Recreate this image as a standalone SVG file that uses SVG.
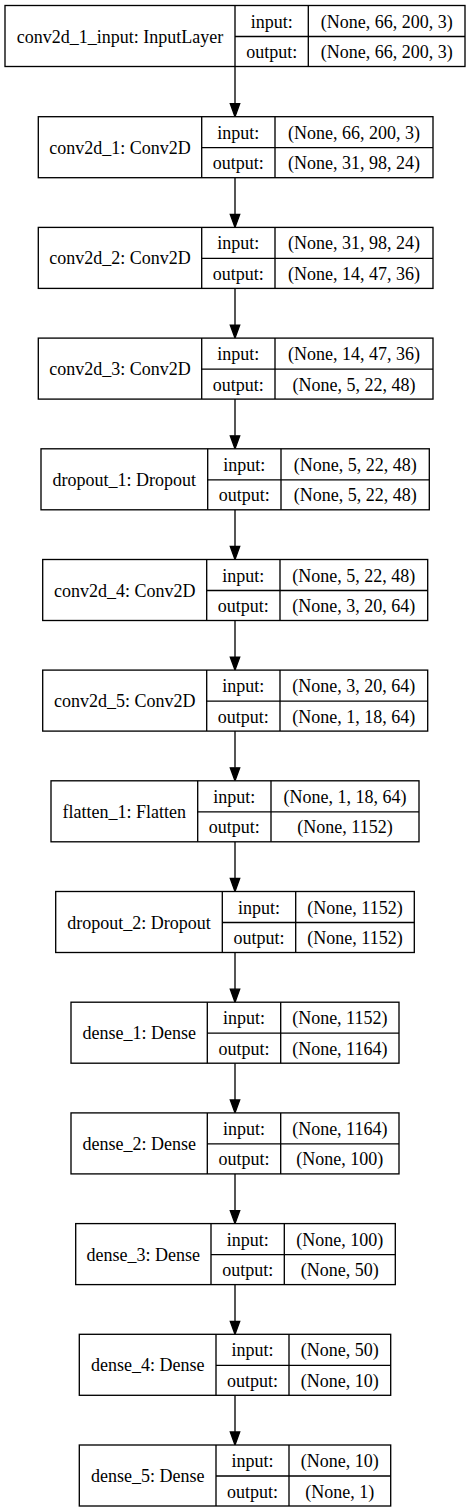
<svg xmlns="http://www.w3.org/2000/svg" width="471" height="1512" viewBox="0 0 471 1512">
<style>
rect{fill:#fff;stroke:#000;stroke-width:1.33}
.d{stroke:#000;stroke-width:1.33;fill:none}
text{font-family:"Liberation Serif","Times New Roman",serif;font-size:18px;fill:#000;text-anchor:middle}
.e{stroke:#000;stroke-width:1.33;fill:none}
.h{fill:#000;stroke:#000;stroke-width:1.33}
</style>
<rect x="0" y="0" width="471" height="1512" style="fill:#fff;stroke:none"/>
<g id="connectors">
<line class="e" x1="235" y1="66.5" x2="235" y2="103.7"/><polygon class="h" points="230.3,103.7 239.7,103.7 235,116.7"/>
<line class="e" x1="235" y1="177.7" x2="235" y2="214.4"/><polygon class="h" points="230.3,214.4 239.7,214.4 235,227.4"/>
<line class="e" x1="235" y1="288.4" x2="235" y2="325.1"/><polygon class="h" points="230.3,325.1 239.7,325.1 235,338.1"/>
<line class="e" x1="235" y1="399.1" x2="235" y2="435.8"/><polygon class="h" points="230.3,435.8 239.7,435.8 235,448.8"/>
<line class="e" x1="235" y1="509.8" x2="235" y2="546.5"/><polygon class="h" points="230.3,546.5 239.7,546.5 235,559.5"/>
<line class="e" x1="235" y1="620.5" x2="235" y2="657.1"/><polygon class="h" points="230.3,657.1 239.7,657.1 235,670.1"/>
<line class="e" x1="235" y1="731.1" x2="235" y2="767.8"/><polygon class="h" points="230.3,767.8 239.7,767.8 235,780.8"/>
<line class="e" x1="235" y1="841.8" x2="235" y2="878.5"/><polygon class="h" points="230.3,878.5 239.7,878.5 235,891.5"/>
<line class="e" x1="235" y1="952.5" x2="235" y2="989.2"/><polygon class="h" points="230.3,989.2 239.7,989.2 235,1002.2"/>
<line class="e" x1="235" y1="1063.2" x2="235" y2="1099.9"/><polygon class="h" points="230.3,1099.9 239.7,1099.9 235,1112.9"/>
<line class="e" x1="235" y1="1173.9" x2="235" y2="1210.6"/><polygon class="h" points="230.3,1210.6 239.7,1210.6 235,1223.6"/>
<line class="e" x1="235" y1="1284.6" x2="235" y2="1321.3"/><polygon class="h" points="230.3,1321.3 239.7,1321.3 235,1334.3"/>
<line class="e" x1="235" y1="1395.3" x2="235" y2="1432"/><polygon class="h" points="230.3,1432 239.7,1432 235,1445"/>
</g>
<g id="conv2d_1_input" transform="translate(0,5.5)">
<rect x="5" y="0" width="460" height="61"/>
<path class="d" d="M235,0V61M308.3,0V61M235,31H465"/>
<text x="120" y="37">conv2d_1_input: InputLayer</text>
<text x="271.7" y="22">input:</text><text x="271.7" y="52.5">output:</text>
<text x="386.7" y="22">(None, 66, 200, 3)</text><text x="386.7" y="52.5">(None, 66, 200, 3)</text>
</g>
<g id="conv2d_1" transform="translate(0,116.7)">
<rect x="38.3" y="0" width="394.7" height="61"/>
<path class="d" d="M201.7,0V61M275,0V61M201.7,31H433"/>
<text x="120" y="37">conv2d_1: Conv2D</text>
<text x="238.3" y="22">input:</text><text x="238.3" y="52.5">output:</text>
<text x="354" y="22">(None, 66, 200, 3)</text><text x="354" y="52.5">(None, 31, 98, 24)</text>
</g>
<g id="conv2d_2" transform="translate(0,227.4)">
<rect x="38.3" y="0" width="394.7" height="61"/>
<path class="d" d="M201.7,0V61M275,0V61M201.7,31H433"/>
<text x="120" y="37">conv2d_2: Conv2D</text>
<text x="238.3" y="22">input:</text><text x="238.3" y="52.5">output:</text>
<text x="354" y="22">(None, 31, 98, 24)</text><text x="354" y="52.5">(None, 14, 47, 36)</text>
</g>
<g id="conv2d_3" transform="translate(0,338.1)">
<rect x="38.3" y="0" width="394.7" height="61"/>
<path class="d" d="M201.7,0V61M275,0V61M201.7,31H433"/>
<text x="120" y="37">conv2d_3: Conv2D</text>
<text x="238.3" y="22">input:</text><text x="238.3" y="52.5">output:</text>
<text x="354" y="22">(None, 14, 47, 36)</text><text x="354" y="52.5">(None, 5, 22, 48)</text>
</g>
<g id="dropout_1" transform="translate(0,448.8)">
<rect x="41" y="0" width="388.3" height="61"/>
<path class="d" d="M207.7,0V61M281,0V61M207.7,31H429.3"/>
<text x="124.3" y="37">dropout_1: Dropout</text>
<text x="244.3" y="22">input:</text><text x="244.3" y="52.5">output:</text>
<text x="355.2" y="22">(None, 5, 22, 48)</text><text x="355.2" y="52.5">(None, 5, 22, 48)</text>
</g>
<g id="conv2d_4" transform="translate(0,559.5)">
<rect x="42.7" y="0" width="385" height="61"/>
<path class="d" d="M206.7,0V61M280,0V61M206.7,31H427.7"/>
<text x="124.7" y="37">conv2d_4: Conv2D</text>
<text x="243.3" y="22">input:</text><text x="243.3" y="52.5">output:</text>
<text x="353.8" y="22">(None, 5, 22, 48)</text><text x="353.8" y="52.5">(None, 3, 20, 64)</text>
</g>
<g id="conv2d_5" transform="translate(0,670.1)">
<rect x="42.7" y="0" width="385" height="61"/>
<path class="d" d="M206.7,0V61M280,0V61M206.7,31H427.7"/>
<text x="124.7" y="37">conv2d_5: Conv2D</text>
<text x="243.3" y="22">input:</text><text x="243.3" y="52.5">output:</text>
<text x="353.8" y="22">(None, 3, 20, 64)</text><text x="353.8" y="52.5">(None, 1, 18, 64)</text>
</g>
<g id="flatten_1" transform="translate(0,780.8)">
<rect x="51" y="0" width="368" height="61"/>
<path class="d" d="M197.7,0V61M271,0V61M197.7,31H419"/>
<text x="124.3" y="37">flatten_1: Flatten</text>
<text x="234.3" y="22">input:</text><text x="234.3" y="52.5">output:</text>
<text x="345" y="22">(None, 1, 18, 64)</text><text x="345" y="52.5">(None, 1152)</text>
</g>
<g id="dropout_2" transform="translate(0,891.5)">
<rect x="55.7" y="0" width="358.6" height="61"/>
<path class="d" d="M222.3,0V61M295.7,0V61M222.3,31H414.3"/>
<text x="139" y="37">dropout_2: Dropout</text>
<text x="259" y="22">input:</text><text x="259" y="52.5">output:</text>
<text x="355" y="22">(None, 1152)</text><text x="355" y="52.5">(None, 1152)</text>
</g>
<g id="dense_1" transform="translate(0,1002.2)">
<rect x="71" y="0" width="328" height="61"/>
<path class="d" d="M207.3,0V61M280.7,0V61M207.3,31H399"/>
<text x="139.2" y="37">dense_1: Dense</text>
<text x="244" y="22">input:</text><text x="244" y="52.5">output:</text>
<text x="339.8" y="22">(None, 1152)</text><text x="339.8" y="52.5">(None, 1164)</text>
</g>
<g id="dense_2" transform="translate(0,1112.9)">
<rect x="71" y="0" width="328" height="61"/>
<path class="d" d="M207.3,0V61M280.7,0V61M207.3,31H399"/>
<text x="139.2" y="37">dense_2: Dense</text>
<text x="244" y="22">input:</text><text x="244" y="52.5">output:</text>
<text x="339.8" y="22">(None, 1164)</text><text x="339.8" y="52.5">(None, 100)</text>
</g>
<g id="dense_3" transform="translate(0,1223.6)">
<rect x="75.7" y="0" width="319.6" height="61"/>
<path class="d" d="M211,0V61M284.3,0V61M211,31H395.3"/>
<text x="143.3" y="37">dense_3: Dense</text>
<text x="247.7" y="22">input:</text><text x="247.7" y="52.5">output:</text>
<text x="339.8" y="22">(None, 100)</text><text x="339.8" y="52.5">(None, 50)</text>
</g>
<g id="dense_4" transform="translate(0,1334.3)">
<rect x="79.3" y="0" width="311.4" height="61"/>
<path class="d" d="M216,0V61M289,0V61M216,31H390.7"/>
<text x="147.7" y="37">dense_4: Dense</text>
<text x="252.5" y="22">input:</text><text x="252.5" y="52.5">output:</text>
<text x="339.8" y="22">(None, 50)</text><text x="339.8" y="52.5">(None, 10)</text>
</g>
<g id="dense_5" transform="translate(0,1445)">
<rect x="79.3" y="0" width="311.4" height="61"/>
<path class="d" d="M216,0V61M289,0V61M216,31H390.7"/>
<text x="147.7" y="37">dense_5: Dense</text>
<text x="252.5" y="22">input:</text><text x="252.5" y="52.5">output:</text>
<text x="339.8" y="22">(None, 10)</text><text x="339.8" y="52.5">(None, 1)</text>
</g>
</svg>
